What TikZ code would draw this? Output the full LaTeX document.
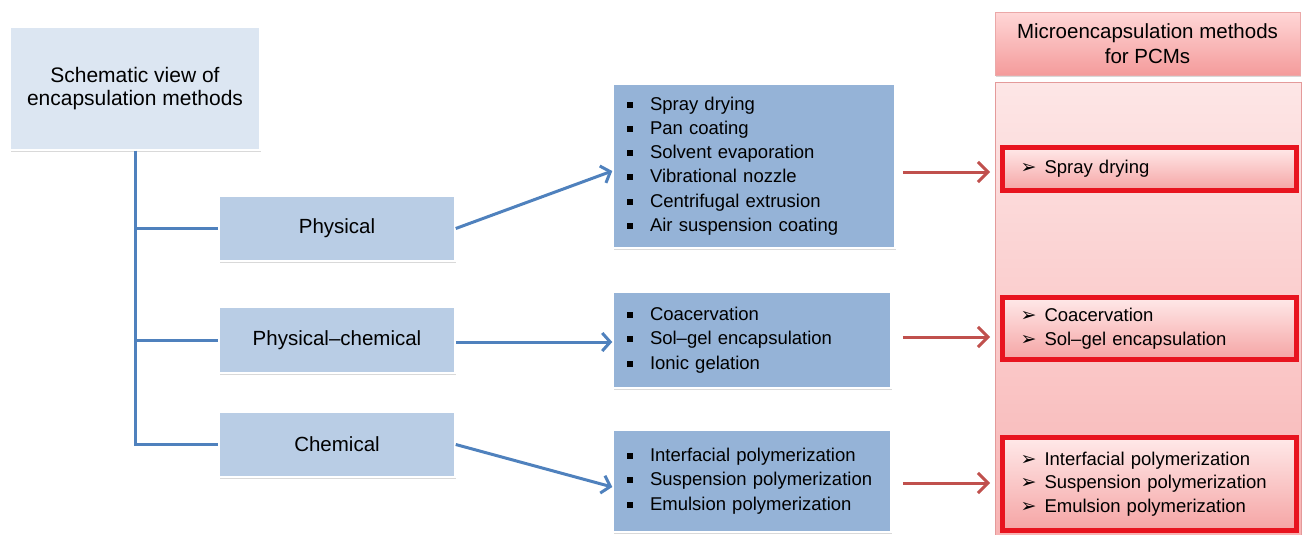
\documentclass[tikz,border=0pt]{standalone}
\usepackage{fontspec}
\setmainfont{Liberation Sans}
\newfontfamily\symfont{DejaVu Sans}
\usetikzlibrary{arrows.meta,shadows}
\definecolor{topfill}{HTML}{DCE6F2}
\definecolor{catfill}{HTML}{B9CDE5}
\definecolor{listfill}{HTML}{95B3D7}
\definecolor{blueline}{HTML}{4F81BD}
\definecolor{redline}{HTML}{C0504D}
\definecolor{redbox}{HTML}{E8141F}
\definecolor{headtop}{HTML}{FFD6D6}
\definecolor{headbot}{HTML}{F49B9B}
\definecolor{headdraw}{HTML}{EBA8A8}
\definecolor{coltop}{HTML}{FDE6E6}
\definecolor{colbot}{HTML}{F8B4B4}
\definecolor{coldraw}{HTML}{E49A9A}
\definecolor{rbtop}{HTML}{FFE9E9}
\definecolor{rbbot}{HTML}{F5A4A4}
\newcommand{\sqb}{\makebox[23pt][l]{\rule[2.5pt]{5.5pt}{6pt}}}
\newcommand{\arb}{\makebox[24pt][l]{\symfont\fontsize{19}{19}\selectfont ➢}}
\begin{document}
\begin{tikzpicture}[x=1pt,y=-1pt,
  shadowed/.style={draw=white, line width=1.5pt,
    drop shadow={shadow xshift=0.5pt, shadow yshift=-2pt, opacity=0.3}},
  topbox/.style={shadowed, fill=topfill, minimum width=250pt, minimum height=123pt,
    align=center, font=\fontsize{21}{22.5}\selectfont},
  catbox/.style={shadowed, fill=catfill, minimum width=236pt, minimum height=65pt,
    font=\fontsize{20.5}{24}\selectfont},
  listbox/.style={shadowed, fill=listfill, inner xsep=14pt, inner ysep=0pt, align=left,
    font=\fontsize{18.5}{24.3}\selectfont},
  headbox/.style={draw=headdraw, line width=1pt, top color=headtop, bottom color=headbot,
    minimum width=305pt, minimum height=62pt, align=center,
    font=\fontsize{20.5}{25}\selectfont,
    drop shadow={shadow xshift=0.5pt, shadow yshift=-2pt, opacity=0.3}},
  colbox/.style={draw=coldraw, line width=1pt, top color=coltop, bottom color=colbot,
    minimum width=306pt, minimum height=453pt},
  redlist/.style={draw=redbox, line width=5pt, top color=rbtop, bottom color=rbbot,
    inner xsep=18pt, inner ysep=0pt, text width=258pt, align=left,
    font=\fontsize{18.5}{23.5}\selectfont},
  bluearrow/.style={draw=blueline, line width=3pt,
    -{Straight Barb[length=8pt, width=18pt]}},
  tree/.style={draw=blueline, line width=3pt},
  redarrow/.style={draw=redline, line width=3pt,
    -{Straight Barb[length=10pt, width=20pt]}}
]
\useasboundingbox (0,0) rectangle (1303,535);

% left part
\node[topbox] (top) at (135,88.5) {Schematic view of\\encapsulation methods};
\node[catbox] (phys) at (337,228.5) {Physical};
\node[catbox, minimum height=66pt] (pc) at (337,340) {Physical–chemical};
\node[catbox] (chem) at (337,444.5) {Chemical};

\draw[tree] (top.south) |- (phys.west);
\draw[tree] (top.south) |- (pc.west);
\draw[tree] (top.south) |- (chem.west);

% lists
\node[listbox, text width=254pt, minimum height=164pt] (list1) at (754,166)
  {\sqb Spray drying\\ \sqb Pan coating\\ \sqb Solvent evaporation\\ \sqb Vibrational nozzle\\ \sqb Centrifugal extrusion\\ \sqb Air suspension coating};
\node[listbox, text width=250pt, minimum height=96pt] (list2) at (752,340)
  {\sqb Coacervation\\ \sqb Sol–gel encapsulation\\ \sqb Ionic gelation};
\node[listbox, text width=250pt, minimum height=102pt] (list3) at (752,481)
  {\sqb Interfacial polymerization\\ \sqb Suspension polymerization\\ \sqb Emulsion polymerization};

\draw[bluearrow] (phys.east) -- ([yshift=-5pt]list1.west);
\draw[bluearrow] ([yshift=-2pt]pc.east) -- ([yshift=-2pt]list2.west);
\draw[bluearrow] (chem.east) -- ([yshift=-6pt]list3.west);

% right column
\node[colbox] (pcmcol) at (1148,308.5) {};
\node[headbox] (pcmhead) at (1147.5,44) {Microencapsulation methods\\for PCMs};

\node[redlist, minimum height=43pt] (rb1) at (1149.5,169) {\arb Spray drying};
\node[redlist, minimum height=62pt] (rb2) at (1149.5,328.5) {\arb Coacervation\\ \arb Sol–gel encapsulation};
\node[redlist, minimum height=93pt] (rb3) at (1149.5,484) {\arb Interfacial polymerization\\ \arb Suspension polymerization\\ \arb Emulsion polymerization};

\draw[redarrow] ([xshift=7pt,yshift=-6pt]list1.east) -- ([xshift=-10pt,yshift=-3pt]rb1.west);
\draw[redarrow] ([xshift=11pt,yshift=3pt]list2.east) -- ([xshift=-10pt,yshift=-8.5pt]rb2.west);
\draw[redarrow] ([xshift=11pt,yshift=-2pt]list3.east) -- ([xshift=-10pt,yshift=1pt]rb3.west);
\end{tikzpicture}
\end{document}
